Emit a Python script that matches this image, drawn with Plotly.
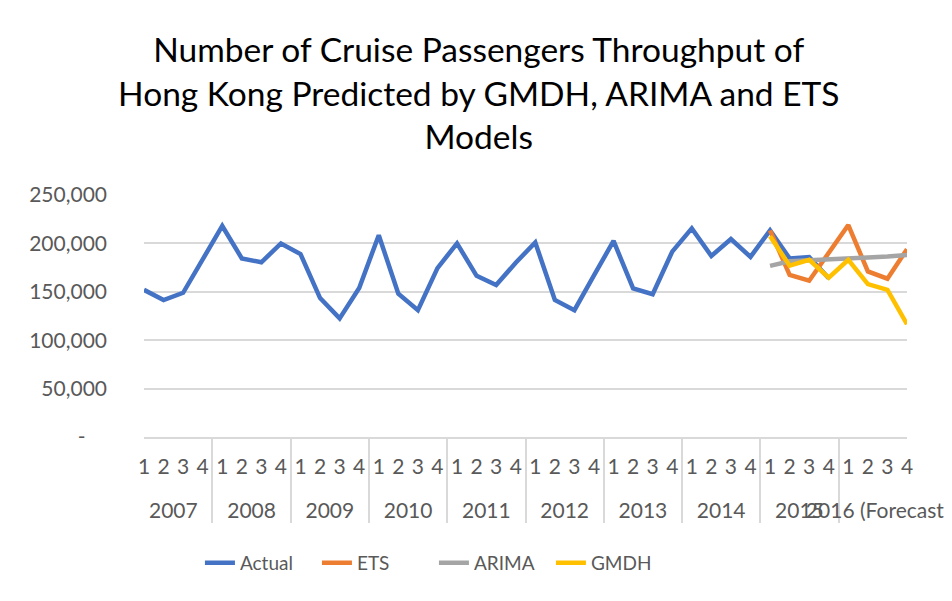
import plotly.graph_objects as go

FONT = "Lato"

# quarters 2007 Q1 .. 2015 Q4
years = [str(y) for y in range(2007, 2016)]
quarters = ["1", "2", "3", "4"]
actual = [
    152000, 141500, 149000, 184000,
    218000, 184500, 180500, 200000,
    189000, 143500, 122500, 154000,
    208500, 148000, 131000, 174500,
    200000, 166500, 157000, 180000,
    201000, 141500, 131000, 167000,
    202500, 153500, 147500, 191500,
    215500, 187000, 204500, 186000,
    213500, 184500, 186000, 164000,
]

fc_years = ["2015"] * 4 + ["2016 (Forecast)"] * 4
fc_quarters = quarters * 2
ets = [213500, 167500, 161500, 190500, 219000, 171000, 163500, 194000]
arima = [176800, 181500, 182700, 183300, 184400, 185400, 186400, 188100]
gmdh = [207500, 177000, 183000, 164500, 183000, 158000, 152000, 116500]

y_ticks = [0, 50000, 100000, 150000, 200000, 250000]
y_labels = ["-\u00a0\u00a0\u00a0\u00a0", "50,000", "100,000", "150,000", "200,000", "250,000"]


# blank second line under each quarter label leaves room above the year row
def q_lbl(q):
    return q + "<br>\u00a0"


act_x = [[y for y in years for _ in quarters], [q_lbl(q) for q in quarters] * len(years)]
fc_x = [fc_years, [q_lbl(q) for q in fc_quarters]]

fig = go.Figure()
fig.add_trace(go.Scatter(x=act_x, y=actual, name="Actual", mode="lines",
                         line=dict(color="#4472C4", width=4.5)))
fig.add_trace(go.Scatter(x=fc_x, y=ets, name="ETS", mode="lines",
                         line=dict(color="#ED7D31", width=4.5)))
fig.add_trace(go.Scatter(x=fc_x, y=arima, name="ARIMA", mode="lines",
                         line=dict(color="#A5A5A5", width=4.5)))
fig.add_trace(go.Scatter(x=fc_x, y=gmdh, name="GMDH", mode="lines",
                         line=dict(color="#FFC000", width=4.5)))

fig.update_layout(
    width=952, height=601,
    margin=dict(l=136, r=26, t=187, b=172),
    paper_bgcolor="white", plot_bgcolor="white",
    font=dict(family=FONT, size=20, color="#595959"),
    title=dict(
        text="Number of Cruise Passengers Throughput of<br>Hong Kong Predicted by GMDH, ARIMA and ETS<br>Models",
        x=0.4945, xanchor="center", y=0.91, yanchor="top",
        font=dict(family=FONT, size=33.5, color="#000000"),
    ),
    showlegend=True,
    legend=dict(orientation="h", x=0.38, xanchor="center", y=-0.52, yanchor="middle",
                entrywidth=72, font=dict(size=19, color="#595959")),
    xaxis=dict(type="multicategory", showgrid=False, showline=True, linecolor="#d9d9d9",
               linewidth=1.5, showdividers=True, dividercolor="#d9d9d9", dividerwidth=1.5,
               ticks="", tickangle=0, nticks=60, ticklabelstandoff=10,
               tickfont=dict(size=21)),
    yaxis=dict(range=[0, 250000], tickvals=y_ticks, ticktext=y_labels,
               showgrid=True, gridcolor="#d9d9d9", gridwidth=1.5, zeroline=False,
               ticks="", ticklabelstandoff=36, tickfont=dict(size=21)),
)

fig.write_html("out.html")
